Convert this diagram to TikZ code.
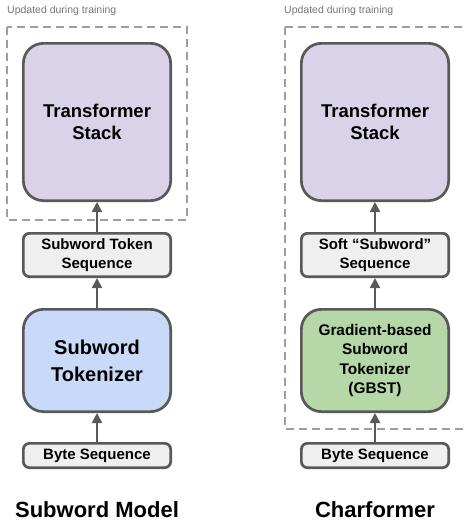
\documentclass[tikz,border=0pt]{standalone}
\usepackage{fontspec}
\setmainfont{Liberation Sans}
\usetikzlibrary{positioning,arrows.meta}
\definecolor{boxline}{HTML}{595959}
\definecolor{stackfill}{HTML}{D9D2E9}
\definecolor{tokfill}{HTML}{C9DAF8}
\definecolor{gbstfill}{HTML}{B6D7A8}
\definecolor{seqfill}{HTML}{EFEFEF}
\definecolor{traingray}{HTML}{9E9E9E}
\definecolor{notegray}{HTML}{757575}
\newcommand{\fsz}[2]{\fontsize{#1}{#2}\selectfont}
\tikzset{
  boxbase/.style={draw=boxline, line width=2.7pt, minimum width=147.3pt, align=center, inner sep=2pt, font=\bfseries},
  bigbox/.style={boxbase, rounded corners=20pt},
  seqbox/.style={boxbase, rounded corners=6pt, fill=seqfill, font=\bfseries\fsz{15}{19}},
  flow/.style={-{Triangle[length=10pt,width=10pt]}, line width=2pt, draw=boxline},
  trainbox/.style={draw=traingray, line width=1.8pt, dash pattern=on 8pt off 5pt},
  note/.style={anchor=base west, inner sep=0pt, text=notegray, font=\fsz{10.5}{12}},
  title/.style={anchor=base, inner sep=0pt, font=\bfseries\fsz{22}{26}}
}
\begin{document}
\begin{tikzpicture}[x=1pt,y=-1pt]
            \useasboundingbox (0,0) rectangle (464,522);
            % subword model
            \node[bigbox, fill=stackfill, minimum height=157.3pt, font=\bfseries\fsz{18.5}{21.5}] (stackL) at (97,122) {Transformer\\Stack};
            \node[seqbox, minimum height=43.3pt, below=30pt of stackL] (tokseqL) {Subword Token\\Sequence};
            \node[bigbox, fill=tokfill, minimum height=102.3pt, below=30pt of tokseqL, font=\bfseries\fsz{20}{27}] (tokL) {Subword\\Tokenizer};
            \node[seqbox, minimum height=24.3pt, below=29pt of tokL] (byteL) {Byte Sequence};
            \node[title] (titleL) at (97,517) {Subword Model};
            % charformer
            \node[bigbox, fill=stackfill, minimum height=157.3pt, font=\bfseries\fsz{18.5}{21.5}] (stackR) at (375,122) {Transformer\\Stack};
            \node[seqbox, minimum height=43.3pt, below=30pt of stackR] (softseqR) {Soft “Subword”\\Sequence};
            \node[bigbox, fill=gbstfill, minimum height=102.3pt, below=30pt of softseqR, font=\bfseries\fsz{15.4}{19.5}] (gbstR) {Gradient-based\\Subword\\Tokenizer\\(GBST)};
            \node[seqbox, minimum height=24.3pt, below=29pt of gbstR] (byteR) {Byte Sequence};
            \node[title] (titleR) at (375,517) {Charformer};
            % trained parts
            \draw[trainbox] (7,27) rectangle (187,220);
            \draw[trainbox] (285,27) rectangle (472,429);
            \node[note] (noteL) at (7,13.5) {Updated during training};
            \node[note] (noteR) at (284,13.5) {Updated during training};
            \draw[flow] (byteL) -- (tokL);
            \draw[flow] (tokL) -- (tokseqL);
            \draw[flow] (tokseqL) -- (stackL);
            \draw[flow] (byteR) -- (gbstR);
            \draw[flow] (gbstR) -- (softseqR);
            \draw[flow] (softseqR) -- (stackR);
\end{tikzpicture}
\end{document}
